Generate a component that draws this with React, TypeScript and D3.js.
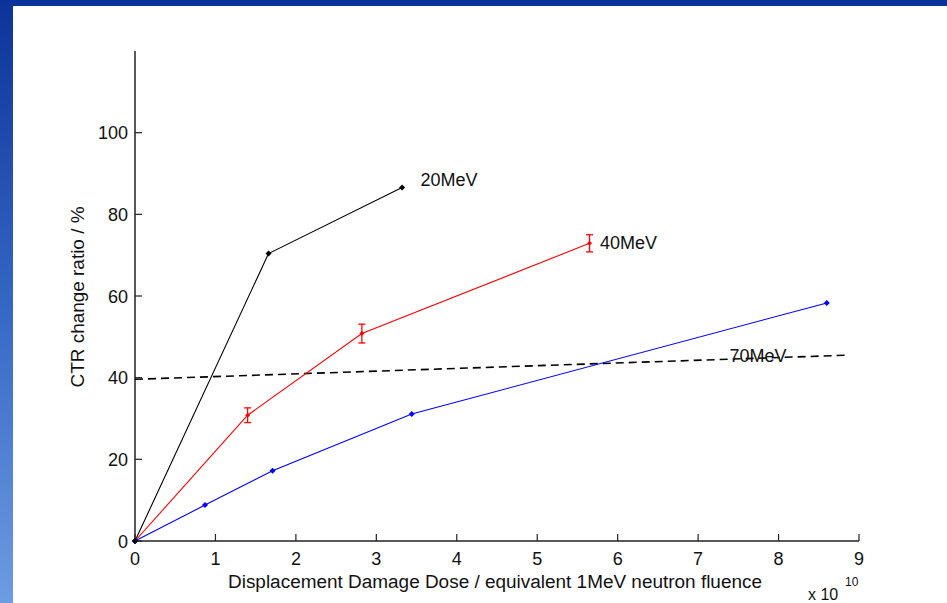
import React from "react";
import * as d3 from "d3";

const W = 947;
const H = 603;

const xTicks = [0, 1, 2, 3, 4, 5, 6, 7, 8, 9];
const yTicks = [0, 20, 40, 60, 80, 100];

const mev20X = [0, 1.66, 3.32];
const mev20Y = [0, 70.4, 86.6];

const mev40X = [0, 1.4, 2.82, 5.65];
const mev40Y = [0, 30.8, 50.8, 72.9];
const mev40Err = [0, 1.8, 2.3, 2.1];

const mev70X = [0, 0.87, 1.71, 3.44, 8.6];
const mev70Y = [0, 8.8, 17.2, 31.1, 58.3];

const fitX = [0, 8.85];
const fitY = [39.6, 45.5];

const labels = [
  { text: "20MeV", x: 3.55, y: 88.5 },
  { text: "40MeV", x: 5.78, y: 73.2 },
  { text: "70MeV", x: 7.39, y: 45.5 },
];

const FONT = "'Liberation Sans', Arial, Helvetica, sans-serif";

export default function App() {
  const x = d3.scaleLinear().domain([0, 9]).range([135, 859]);
  const y = d3.scaleLinear().domain([0, 120]).range([541, 51]);

  const line = d3
    .line<[number, number]>()
    .x((d) => x(d[0]))
    .y((d) => y(d[1]));

  const zip = (a: number[], b: number[]) => a.map((v, i) => [v, b[i]] as [number, number]);

  const diamond = (cx: number, cy: number, r: number) =>
    `M${cx},${cy - r}L${cx + r},${cy}L${cx},${cy + r}L${cx - r},${cy}Z`;

  return (
    <svg
      width={W}
      height={H}
      style={{ position: "absolute", left: 0, top: 0, background: "#fff" }}
      fontFamily={FONT}
    >
      <defs>
        <linearGradient id="sideGrad" x1="0" y1="0" x2="0" y2="1">
          <stop offset="0" stopColor="#0c3399" />
          <stop offset="0.5" stopColor="#3566c4" />
          <stop offset="1" stopColor="#6c9ce2" />
        </linearGradient>
      </defs>
      <rect x={0} y={0} width={W} height={H} fill="#fff" />
      <rect x={0} y={0} width={13} height={H} fill="url(#sideGrad)" />
      <rect x={0} y={0} width={W} height={6} fill="#0c3399" />

      {/* axes */}
      <line x1={x(0)} x2={x(0)} y1={y(120)} y2={y(0)} stroke="#222" strokeWidth={1.5} />
      <line x1={x(0)} x2={x(9)} y1={y(0)} y2={y(0)} stroke="#222" strokeWidth={1.5} />
      {xTicks.map((t) => (
        <g key={"xt" + t}>
          <line x1={x(t)} x2={x(t)} y1={y(0)} y2={y(0) - 7} stroke="#222" strokeWidth={1.2} />
          <text x={x(t)} y={565} fontSize={18} textAnchor="middle" fill="#111">
            {t}
          </text>
        </g>
      ))}
      {yTicks.map((t) => (
        <g key={"yt" + t}>
          <line x1={x(0)} x2={x(0) + 7} y1={y(t)} y2={y(t)} stroke="#222" strokeWidth={1.2} />
          <text x={128} y={y(t) + 6.5} fontSize={18} textAnchor="end" fill="#111">
            {t}
          </text>
        </g>
      ))}

      <text x={495} y={588} fontSize={18} textAnchor="middle" fill="#111" textLength={534} lengthAdjust="spacingAndGlyphs">
        Displacement Damage Dose / equivalent 1MeV neutron fluence
      </text>
      <text
        transform={`translate(84, 297) rotate(-90)`}
        fontSize={18}
        textAnchor="middle"
        fill="#111"
        textLength={181}
        lengthAdjust="spacingAndGlyphs"
      >
        CTR change ratio / %
      </text>
      <text x={808} y={600} fontSize={16} fill="#111">
        x 10
      </text>
      <text x={845} y={586} fontSize={12} fill="#111">
        10
      </text>

      {/* dashed fit line */}
      <path
        d={line(zip(fitX, fitY)) || ""}
        fill="none"
        stroke="#000"
        strokeWidth={1.6}
        strokeDasharray="8,5"
      />

      {/* 20 MeV */}
      <path d={line(zip(mev20X, mev20Y)) || ""} fill="none" stroke="#000" strokeWidth={1.1} />
      {mev20X.map((v, i) => (
        <path key={"b" + i} d={diamond(x(v), y(mev20Y[i]), 3)} fill="#000" />
      ))}

      {/* 40 MeV */}
      <path d={line(zip(mev40X, mev40Y)) || ""} fill="none" stroke="#ff0000" strokeWidth={1.1} />
      {mev40X.map((v, i) => {
        const cx = x(v);
        const e = mev40Err[i];
        return (
          <g key={"r" + i}>
            {e > 0 && (
              <g stroke="#ff0000" strokeWidth={1.3}>
                <line x1={cx} x2={cx} y1={y(mev40Y[i] + e)} y2={y(mev40Y[i] - e)} />
                <line x1={cx - 3.5} x2={cx + 3.5} y1={y(mev40Y[i] + e)} y2={y(mev40Y[i] + e)} />
                <line x1={cx - 3.5} x2={cx + 3.5} y1={y(mev40Y[i] - e)} y2={y(mev40Y[i] - e)} />
              </g>
            )}
            <path d={diamond(cx, y(mev40Y[i]), 2.5)} fill="#ff0000" />
          </g>
        );
      })}

      {/* 70 MeV */}
      <path d={line(zip(mev70X, mev70Y)) || ""} fill="none" stroke="#0000ff" strokeWidth={1.1} />
      {mev70X.map((v, i) => (
        <path key={"u" + i} d={diamond(x(v), y(mev70Y[i]), 3)} fill="#0000ff" />
      ))}
      {/* origin marker black on top */}
      <path d={diamond(x(0), y(0), 3)} fill="#000" />

      {labels.map((l) => (
        <text key={l.text} x={x(l.x)} y={y(l.y) + 6.5} fontSize={18} fill="#111">
          {l.text}
        </text>
      ))}
    </svg>
  );
}
